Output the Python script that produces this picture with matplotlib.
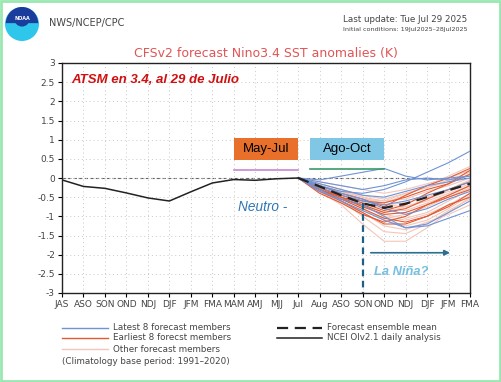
import numpy as np
import matplotlib
matplotlib.use('Agg')
import matplotlib.pyplot as plt
from matplotlib.patches import Rectangle, Wedge, Circle
from matplotlib.lines import Line2D

# season labels along x axis
seasons = ['JAS', 'ASO', 'SON', 'OND', 'NDJ', 'DJF', 'JFM', 'FMA', 'MAM', 'AMJ', 'MJJ',
           'Jul', 'Aug', 'ASO', 'SON', 'OND', 'NDJ', 'DJF', 'JFM', 'FMA']

# observed (NCEI OIv2.1) JAS .. Jul
observed = [-0.05, -0.22, -0.27, -0.39, -0.52, -0.60, -0.36, -0.13, -0.04, -0.06, -0.02, 0.0]

# forecasts Jul .. FMA
latest8 = [
    [0, -0.05, 0.05, 0.15, 0.25, 0.05, -0.05, 0.0, 0.05],
    [0, -0.20, -0.35, -0.40, -0.30, -0.10, 0.15, 0.40, 0.70],
    [0, -0.30, -0.60, -0.85, -1.10, -1.30, -1.25, -1.05, -0.85],
    [0, -0.35, -0.55, -0.70, -1.00, -1.30, -1.20, -0.90, -0.60],
    [0, -0.15, -0.30, -0.45, -0.50, -0.35, -0.20, -0.10, 0.0],
    [0, -0.25, -0.45, -0.60, -0.70, -0.60, -0.45, -0.30, -0.10],
    [0, -0.20, -0.40, -0.55, -0.80, -0.95, -0.80, -0.55, -0.35],
    [0, -0.10, -0.20, -0.30, -0.20, -0.05, 0.0, -0.05, 0.05],
]
earliest8 = [
    [0, -0.30, -0.55, -0.80, -1.05, -1.15, -1.00, -0.75, -0.40],
    [0, -0.25, -0.50, -0.65, -0.85, -0.70, -0.40, -0.15, 0.20],
    [0, -0.35, -0.60, -0.90, -1.20, -1.20, -1.00, -0.70, -0.50],
    [0, -0.20, -0.40, -0.55, -0.75, -0.45, -0.20, 0.0, 0.25],
    [0, -0.30, -0.50, -0.75, -0.95, -0.90, -0.70, -0.45, -0.20],
    [0, -0.25, -0.45, -0.60, -0.65, -0.50, -0.30, -0.15, 0.10],
    [0, -0.40, -0.65, -0.95, -1.15, -1.00, -0.70, -0.50, -0.30],
    [0, -0.30, -0.55, -0.70, -0.90, -0.80, -0.55, -0.30, -0.10],
]
others = [
    [0, -0.35, -0.70, -1.20, -1.65, -1.65, -1.30, -0.90, -0.50],
    [0, -0.30, -0.60, -1.00, -1.40, -1.45, -1.20, -0.85, -0.55],
    [0, -0.25, -0.50, -0.80, -1.10, -1.25, -1.10, -0.80, -0.45],
    [0, -0.20, -0.35, -0.50, -0.60, -0.55, -0.35, -0.20, 0.0],
    [0, -0.15, -0.30, -0.45, -0.55, -0.40, -0.25, -0.10, 0.10],
    [0, -0.30, -0.55, -0.75, -0.95, -1.05, -0.90, -0.60, -0.30],
    [0, -0.25, -0.45, -0.65, -0.80, -0.85, -0.65, -0.45, -0.20],
    [0, -0.10, -0.20, -0.30, -0.40, -0.30, -0.15, 0.0, 0.20],
    [0, -0.30, -0.50, -0.70, -0.90, -0.75, -0.55, -0.35, -0.15],
    [0, -0.20, -0.40, -0.60, -0.70, -0.65, -0.50, -0.30, -0.05],
    [0, -0.35, -0.65, -0.90, -1.25, -1.35, -1.15, -0.95, -0.70],
    [0, -0.20, -0.35, -0.55, -0.65, -0.45, -0.20, 0.05, 0.30],
    [0, -0.25, -0.50, -0.70, -1.00, -1.10, -0.95, -0.70, -0.40],
    [0, -0.15, -0.30, -0.50, -0.70, -0.75, -0.60, -0.40, -0.20],
    [0, -0.30, -0.60, -0.85, -1.05, -0.95, -0.75, -0.50, -0.25],
    [0, -0.20, -0.40, -0.55, -0.60, -0.40, -0.25, -0.05, 0.15],
]
ens_mean = [0, -0.22, -0.45, -0.66, -0.78, -0.67, -0.50, -0.32, -0.15]

xobs = np.arange(len(observed))
xfc = np.arange(11, 11 + len(ens_mean))

W, H = 502, 382
fig = plt.figure(figsize=(W / 100, H / 100), dpi=100)
fig.patch.set_facecolor('white')

def fx(px):
    return px / W

def fy(py):
    return 1 - py / H

ax = fig.add_axes([fx(62), fy(293), fx(470) - fx(62), fy(63) - fy(293)])
ax.set_xlim(0, 19)
ax.set_ylim(-3, 3)
ax.set_xticks(range(len(seasons)))
ax.set_xticklabels(seasons)
yt = np.arange(-3, 3.01, 0.5)
ax.set_yticks(yt)
ax.set_yticklabels(['%g' % v if abs(v) > 1e-9 else '0' for v in yt])
ax.tick_params(labelsize=6.5, labelcolor='#444444', length=3, width=0.8, pad=2)
ax.grid(True, color='#c8c8c8', linestyle=(0, (1, 3)), linewidth=0.7)
for s in ax.spines.values():
    s.set_color('#222222')
    s.set_linewidth(1.0)
ax.axhline(0, color='#666666', linestyle=(0, (3, 2)), linewidth=0.8, zorder=1)

c_latest = '#6f93d6'
c_early = '#e25a32'
c_other = '#f3c6bb'
for m in others:
    ax.plot(xfc, m, color=c_other, lw=0.8, zorder=2)
for m in earliest8:
    ax.plot(xfc, m, color=c_early, lw=0.8, zorder=3)
for m in latest8:
    ax.plot(xfc, m, color=c_latest, lw=0.8, zorder=4)
ax.plot(xfc, ens_mean, color='#222222', lw=1.6, dashes=(5, 3), zorder=6)
ax.plot(xobs, observed, color='#222222', lw=1.1, zorder=6)

# annotations
ax.text(0.42, 2.55, 'ATSM en 3.4, al 29 de Julio', color='#d01010', fontsize=9.5,
        fontweight='bold', fontstyle='italic', family='Liberation Sans', va='center')
ax.add_patch(Rectangle((8.0, 0.47), 3.0, 0.57, facecolor='#e8702a', edgecolor='none', zorder=7))
ax.text(9.5, 0.75, 'May-Jul', ha='center', va='center', fontsize=9.5, family='Liberation Sans', zorder=8)
ax.plot([8.0, 11.0], [0.22, 0.22], color='#c58ad0', lw=1.2, zorder=7)
ax.add_patch(Rectangle((11.55, 0.47), 3.45, 0.57, facecolor='#80c7e6', edgecolor='none', zorder=7))
ax.text(13.27, 0.75, 'Ago-Oct', ha='center', va='center', fontsize=9.5, family='Liberation Sans', zorder=8)
ax.plot([11.55, 15.0], [0.23, 0.23], color='#3a9a6a', lw=1.2, zorder=7)
ax.text(8.2, -0.75, 'Neutro -', color='#2e75b6', fontsize=9.8, fontstyle='italic',
        family='Liberation Sans', va='center', zorder=8)
ax.plot([14, 14], [-0.64, -3], color='#1d5f86', lw=1.6, dashes=(3, 2), zorder=8)
ax.annotate('', xy=(18.2, -1.95), xytext=(14.25, -1.95),
            arrowprops=dict(arrowstyle='-|>', color='#2d6e93', lw=1.2, mutation_scale=8), zorder=8)
ax.text(14.55, -2.45, 'La Niña?', color='#76bfe0', fontsize=9.3, fontstyle='italic',
        fontweight='bold', family='Liberation Sans', va='center', zorder=8)

# header
fig.text(fx(266), fy(53), 'CFSv2 forecast Nino3.4 SST anomalies (K)', color='#e05555',
         fontsize=9, ha='center', va='center')
fig.text(fx(49), fy(23), 'NWS/NCEP/CPC', color='#444444', fontsize=7, va='center')
fig.text(fx(343), fy(20), 'Last update: Tue Jul 29 2025', color='#444444', fontsize=6.3, va='center')
fig.text(fx(343), fy(29), 'Initial conditions: 19Jul2025\u201328Jul2025', color='#444444',
         fontsize=4.6, va='center')

# logo
lax = fig.add_axes([fx(5), fy(41), fx(34), fy(7) - fy(41)])
lax.set_xlim(-1, 1)
lax.set_ylim(-1, 1)
lax.set_aspect('equal')
lax.axis('off')
lax.add_patch(Circle((0, 0), 1, facecolor='#2ec6ea', edgecolor='none'))
lax.add_patch(Wedge((0, 0.05), 0.95, 0, 180, facecolor='#1a3c9c', edgecolor='none'))
lax.add_patch(Circle((0, 0.3), 0.45, facecolor='#1a3c9c', edgecolor='none'))
lax.text(0, 0.35, 'NOAA', color='white', fontsize=3.5, ha='center', va='center', fontweight='bold')

# legend
def leg_line(x0, x1, py, color, **kw):
    fig.add_artist(Line2D([fx(x0), fx(x1)], [fy(py), fy(py)], color=color, **kw))

lc = '#444444'
leg_line(62, 108, 328, c_latest, lw=1.0)
fig.text(fx(113), fy(328), 'Latest 8 forecast members', color=lc, fontsize=6.3, va='center')
leg_line(62, 108, 338, c_early, lw=1.0)
fig.text(fx(113), fy(338), 'Earliest 8 forecst members', color=lc, fontsize=6.3, va='center')
leg_line(62, 108, 349, c_other, lw=1.0)
fig.text(fx(113), fy(349), 'Other forecast members', color=lc, fontsize=6.3, va='center')
fig.text(fx(62), fy(362), '(Climatology base period: 1991\u20132020)', color=lc, fontsize=6.3, va='center')
leg_line(277, 322, 328, '#222222', lw=1.6, dashes=(5, 3))
fig.text(fx(327), fy(328), 'Forecast ensemble mean', color=lc, fontsize=6.3, va='center')
leg_line(277, 322, 338, '#222222', lw=1.1)
fig.text(fx(327), fy(338), 'NCEI OIv2.1 daily analysis', color=lc, fontsize=6.3, va='center')

# green frame
fig.add_artist(Rectangle((0.002, 0.003), 0.995, 0.994, transform=fig.transFigure,
                         fill=False, edgecolor='#98e8b0', lw=2))

fig.savefig('out.png', dpi=100)
